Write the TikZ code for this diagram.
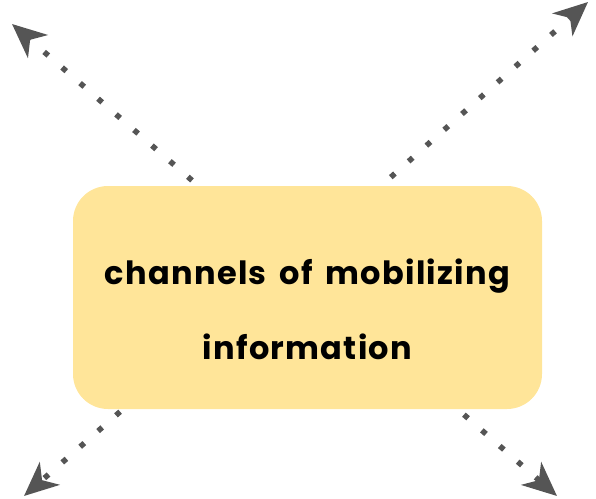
\documentclass[tikz,border=0pt]{standalone}
\usepackage{fontspec}
\setmainfont{Poppins}
\newfontfamily\boxfont{Poppins}[LetterSpace=4,WordSpace=1.6]
\usetikzlibrary{arrows.meta}
\definecolor{boxfill}{HTML}{FFE599}
\definecolor{arr}{HTML}{555555}
\tikzset{
  dotline/.style={draw=arr, line width=5.5pt, line cap=butt, dash pattern=on 5.5pt off 18.3pt,
    -{Stealth[length=34pt,width=30pt,inset=10pt,fill=arr]}},
  mainbox/.style={fill=boxfill, rounded corners=35pt, minimum width=469pt, minimum height=223pt,
    inner sep=0pt},
  boxtext/.style={align=center, font=\boxfont\fontsize{32}{75}\selectfont\bfseries, text=black, inner sep=0pt}
}
\begin{document}
\begin{tikzpicture}[x=1pt,y=-1pt]
\useasboundingbox (0,0) rectangle (596,498);
\coordinate (s1) at (210,196);
\coordinate (e1) at (12,24);
\coordinate (s2) at (373,193);
\coordinate (e2) at (588,2);
\coordinate (s3) at (138,396);
\coordinate (e3) at (24,496);
\coordinate (s4) at (446,399);
\coordinate (e4) at (557,496);
\draw[dotline] (s1) -- (e1);
\draw[dotline] (s2) -- (e2);
\draw[dotline] (s3) -- (e3);
\draw[dotline] (s4) -- (e4);
\node[mainbox] (box) at (307.5,297.5) {};
\node[boxtext] (label) at (307.5,309) {channels of mobilizing\\information};
\end{tikzpicture}
\end{document}
